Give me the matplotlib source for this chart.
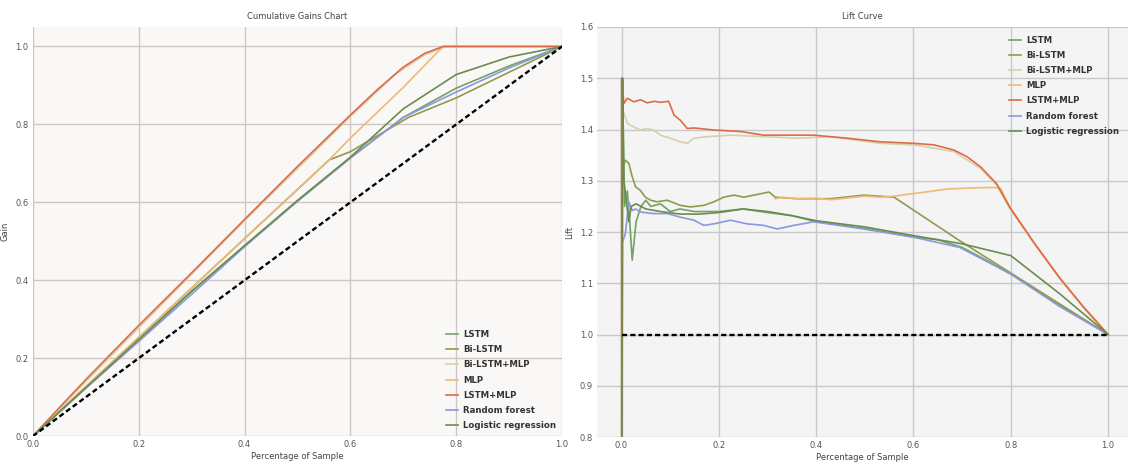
import matplotlib
matplotlib.use('Agg')
import matplotlib.pyplot as plt

labels = ['LSTM', 'Bi-LSTM', 'Bi-LSTM+MLP', 'MLP', 'LSTM+MLP', 'Random forest', 'Logistic regression']
colors = ['#72a266', '#8f9b4c', '#d6d1a8', '#efb976', '#de6b47', '#8a98dc', '#6a8d4e']

# cumulative gains (x = share of sample, y = gain)
gain_lstm_x = [0, 0.1, 0.2, 0.3, 0.4, 0.5, 0.6, 0.7, 0.8, 0.9, 1.0]
gain_lstm_y = [0, 0.124, 0.248, 0.371, 0.488, 0.603, 0.714, 0.818, 0.893, 0.95, 1.0]
gain_bilstm_x = [0, 0.1, 0.2, 0.3, 0.4, 0.5, 0.56, 0.6, 0.71, 0.8, 0.9, 1.0]
gain_bilstm_y = [0, 0.127, 0.253, 0.38, 0.507, 0.633, 0.709, 0.73, 0.818, 0.868, 0.934, 1.0]
gain_bimlp_x = [0, 0.1, 0.2, 0.4, 0.6, 0.686, 0.74, 0.78, 1.0]
gain_bimlp_y = [0, 0.14, 0.278, 0.553, 0.82, 0.93, 0.978, 1.0, 1.0]
gain_mlp_x = [0, 0.1, 0.2, 0.3, 0.4, 0.5, 0.56, 0.6, 0.7, 0.775, 1.0]
gain_mlp_y = [0, 0.127, 0.253, 0.38, 0.507, 0.633, 0.709, 0.765, 0.895, 1.0, 1.0]
gain_lstmmlp_x = [0, 0.05, 0.1, 0.2, 0.3, 0.4, 0.5, 0.6, 0.65, 0.7, 0.74, 0.775, 1.0]
gain_lstmmlp_y = [0, 0.073, 0.145, 0.284, 0.419, 0.556, 0.692, 0.824, 0.888, 0.947, 0.982, 1.0, 1.0]
gain_rf_x = [0, 0.1, 0.2, 0.3, 0.4, 0.5, 0.6, 0.7, 0.8, 0.9, 1.0]
gain_rf_y = [0, 0.123, 0.243, 0.364, 0.486, 0.603, 0.714, 0.818, 0.883, 0.945, 1.0]
gain_lr_x = [0, 0.1, 0.2, 0.3, 0.4, 0.5, 0.6, 0.7, 0.8, 0.9, 1.0]
gain_lr_y = [0, 0.124, 0.248, 0.372, 0.489, 0.605, 0.716, 0.84, 0.928, 0.973, 1.0]

# lift curve (x = share of sample, y = lift)
lift_lstm_x = [0, 0.002, 0.006, 0.012, 0.017, 0.022, 0.03, 0.04, 0.05, 0.06, 0.08, 0.1, 0.12, 0.15,
               0.2, 0.25, 0.3, 0.35, 0.4, 0.5, 0.6, 0.65, 0.7, 0.75, 0.8, 0.9, 1.0]
lift_lstm_y = [0.0, 1.5, 1.25, 1.28, 1.22, 1.145, 1.22, 1.25, 1.262, 1.25, 1.255, 1.24, 1.245, 1.24,
               1.24, 1.245, 1.238, 1.232, 1.22, 1.207, 1.19, 1.185, 1.17, 1.145, 1.118, 1.058, 1.0]
lift_bilstm_x = [0, 0.002, 0.003, 0.008, 0.015, 0.022, 0.029, 0.039, 0.049, 0.06, 0.073, 0.094, 0.121,
                 0.142, 0.169, 0.19, 0.21, 0.231, 0.251, 0.272, 0.303, 0.316, 0.361, 0.429, 0.498,
                 0.56, 0.695, 0.8, 0.9, 1.0]
lift_bilstm_y = [0.0, 1.5, 1.327, 1.34, 1.334, 1.308, 1.288, 1.281, 1.268, 1.262, 1.259, 1.262, 1.252,
                 1.249, 1.252, 1.259, 1.268, 1.272, 1.268, 1.272, 1.278, 1.268, 1.265, 1.265, 1.272,
                 1.268, 1.183, 1.12, 1.06, 1.0]
lift_bimlp_x = [0, 0.002, 0.005, 0.012, 0.025, 0.039, 0.053, 0.067, 0.08, 0.1, 0.121, 0.135, 0.149,
                0.176, 0.224, 0.292, 0.361, 0.429, 0.532, 0.601, 0.683, 0.738, 0.771, 0.798, 0.85,
                0.9, 0.95, 1.0]
lift_bimlp_y = [0.0, 1.43, 1.432, 1.412, 1.405, 1.399, 1.402, 1.398, 1.389, 1.383, 1.376, 1.373, 1.383,
                1.386, 1.389, 1.386, 1.383, 1.386, 1.373, 1.37, 1.357, 1.324, 1.291, 1.246, 1.175,
                1.11, 1.052, 1.0]
lift_mlp_x = [0.316, 0.33, 0.36, 0.4, 0.43, 0.47, 0.5, 0.53, 0.56, 0.6, 0.64, 0.67, 0.72, 0.764,
              0.779, 0.798, 0.85, 0.9, 0.95, 1.0]
lift_mlp_y = [1.265, 1.268, 1.265, 1.266, 1.263, 1.267, 1.27, 1.268, 1.27, 1.275, 1.28, 1.284, 1.286,
              1.287, 1.285, 1.248, 1.176, 1.111, 1.053, 1.0]
lift_lstmmlp_x = [0, 0.0, 0.005, 0.012, 0.025, 0.039, 0.053, 0.067, 0.08, 0.097, 0.108, 0.121, 0.135,
                  0.149, 0.19, 0.245, 0.292, 0.395, 0.464, 0.532, 0.601, 0.642, 0.683, 0.71, 0.738,
                  0.771, 0.798, 0.85, 0.9, 0.95, 1.0]
lift_lstmmlp_y = [0.0, 1.5, 1.451, 1.461, 1.454, 1.458, 1.452, 1.455, 1.453, 1.455, 1.428, 1.418, 1.402,
                  1.403, 1.399, 1.396, 1.389, 1.389, 1.383, 1.376, 1.373, 1.37, 1.36, 1.347, 1.327,
                  1.294, 1.248, 1.176, 1.111, 1.053, 1.0]
lift_rf_x = [0, 0.002, 0.008, 0.015, 0.022, 0.029, 0.039, 0.066, 0.094, 0.121, 0.149, 0.169, 0.19,
             0.224, 0.258, 0.292, 0.32, 0.354, 0.395, 0.497, 0.6, 0.695, 0.8, 0.9, 1.0]
lift_rf_y = [0.0, 1.18, 1.197, 1.259, 1.242, 1.245, 1.239, 1.236, 1.236, 1.229, 1.223, 1.213, 1.216,
             1.223, 1.216, 1.213, 1.206, 1.213, 1.22, 1.206, 1.19, 1.17, 1.118, 1.055, 1.0]
lift_lr_x = [0, 0.002, 0.005, 0.01, 0.015, 0.02, 0.03, 0.05, 0.08, 0.12, 0.16, 0.2, 0.25, 0.3, 0.35,
             0.4, 0.5, 0.6, 0.7, 0.8, 0.9, 1.0]
lift_lr_y = [0.0, 1.5, 1.3, 1.26, 1.22, 1.25, 1.255, 1.245, 1.24, 1.235, 1.235, 1.238, 1.245, 1.24,
             1.232, 1.222, 1.21, 1.193, 1.177, 1.154, 1.08, 1.0]

gain_x = [gain_lstm_x, gain_bilstm_x, gain_bimlp_x, gain_mlp_x, gain_lstmmlp_x, gain_rf_x, gain_lr_x]
gain_y = [gain_lstm_y, gain_bilstm_y, gain_bimlp_y, gain_mlp_y, gain_lstmmlp_y, gain_rf_y, gain_lr_y]
lift_x = [lift_lstm_x, lift_bilstm_x, lift_bimlp_x, lift_mlp_x, lift_lstmmlp_x, lift_rf_x, lift_lr_x]
lift_y = [lift_lstm_y, lift_bilstm_y, lift_bimlp_y, lift_mlp_y, lift_lstmmlp_y, lift_rf_y, lift_lr_y]

plt.rcParams['font.family'] = ['DejaVu Sans']

fig = plt.figure(figsize=(11.31, 4.65), dpi=100)
ax1 = fig.add_axes([0.029, 0.062, 0.468, 0.88])
ax2 = fig.add_axes([0.528, 0.060, 0.469, 0.882])


def style(ax, bg, gridc):
    ax.set_facecolor(bg)
    ax.grid(True, color=gridc, linewidth=1.0)
    ax.set_axisbelow(True)
    for s in ax.spines.values():
        s.set_visible(False)
    ax.tick_params(length=0, labelsize=6, colors='#555555', pad=3)


style(ax1, '#faf8f7', '#cfc6c2')
for xs, ys, c, lab in zip(gain_x, gain_y, colors, labels):
    ax1.plot(xs, ys, color=c, lw=1.2, label=lab)
ax1.plot([0, 1], [0, 1], color='k', ls=(0, (2.2, 1.3)), lw=1.7)
ax1.set_xlim(0, 1)
ax1.set_ylim(0, 1.05)
ax1.set_xticks([0, 0.2, 0.4, 0.6, 0.8, 1.0])
ax1.set_yticks([0, 0.2, 0.4, 0.6, 0.8, 1.0])
ax1.set_title('Cumulative Gains Chart', fontsize=6, color='#444444', pad=6)
ax1.set_xlabel('Percentage of Sample', fontsize=6, color='#444444', labelpad=2)
ax1.set_ylabel('Gain', fontsize=6, color='#444444', labelpad=4)
leg1 = ax1.legend(loc='lower right', frameon=False, prop={'weight': 'bold', 'size': 6.2},
                  handlelength=1.4, labelspacing=0.72, borderaxespad=0.3, handletextpad=0.6)
for t in leg1.get_texts():
    t.set_color('#333333')

style(ax2, '#f4f4f4', '#c9c9c9')
for xs, ys, c, lab in zip(lift_x, lift_y, colors, labels):
    ax2.plot(xs, ys, color=c, lw=1.2, label=lab)
ax2.plot([0, 1], [1, 1], color='k', ls=(0, (2.2, 1.3)), lw=1.7)
ax2.set_xlim(-0.05, 1.04)
ax2.set_ylim(0.8, 1.6)
ax2.set_xticks([0, 0.2, 0.4, 0.6, 0.8, 1.0])
ax2.set_yticks([0.8, 0.9, 1.0, 1.1, 1.2, 1.3, 1.4, 1.5, 1.6])
ax2.set_title('Lift Curve', fontsize=6, color='#444444', pad=6)
ax2.set_xlabel('Percentage of Sample', fontsize=6, color='#444444', labelpad=2)
ax2.set_ylabel('Lift', fontsize=6, color='#444444', labelpad=4)
leg2 = ax2.legend(loc='upper right', frameon=False, prop={'weight': 'bold', 'size': 6.2},
                  handlelength=1.4, labelspacing=0.72, borderaxespad=0.6, handletextpad=0.6)
for t in leg2.get_texts():
    t.set_color('#333333')

fig.savefig('out.png', dpi=100)
